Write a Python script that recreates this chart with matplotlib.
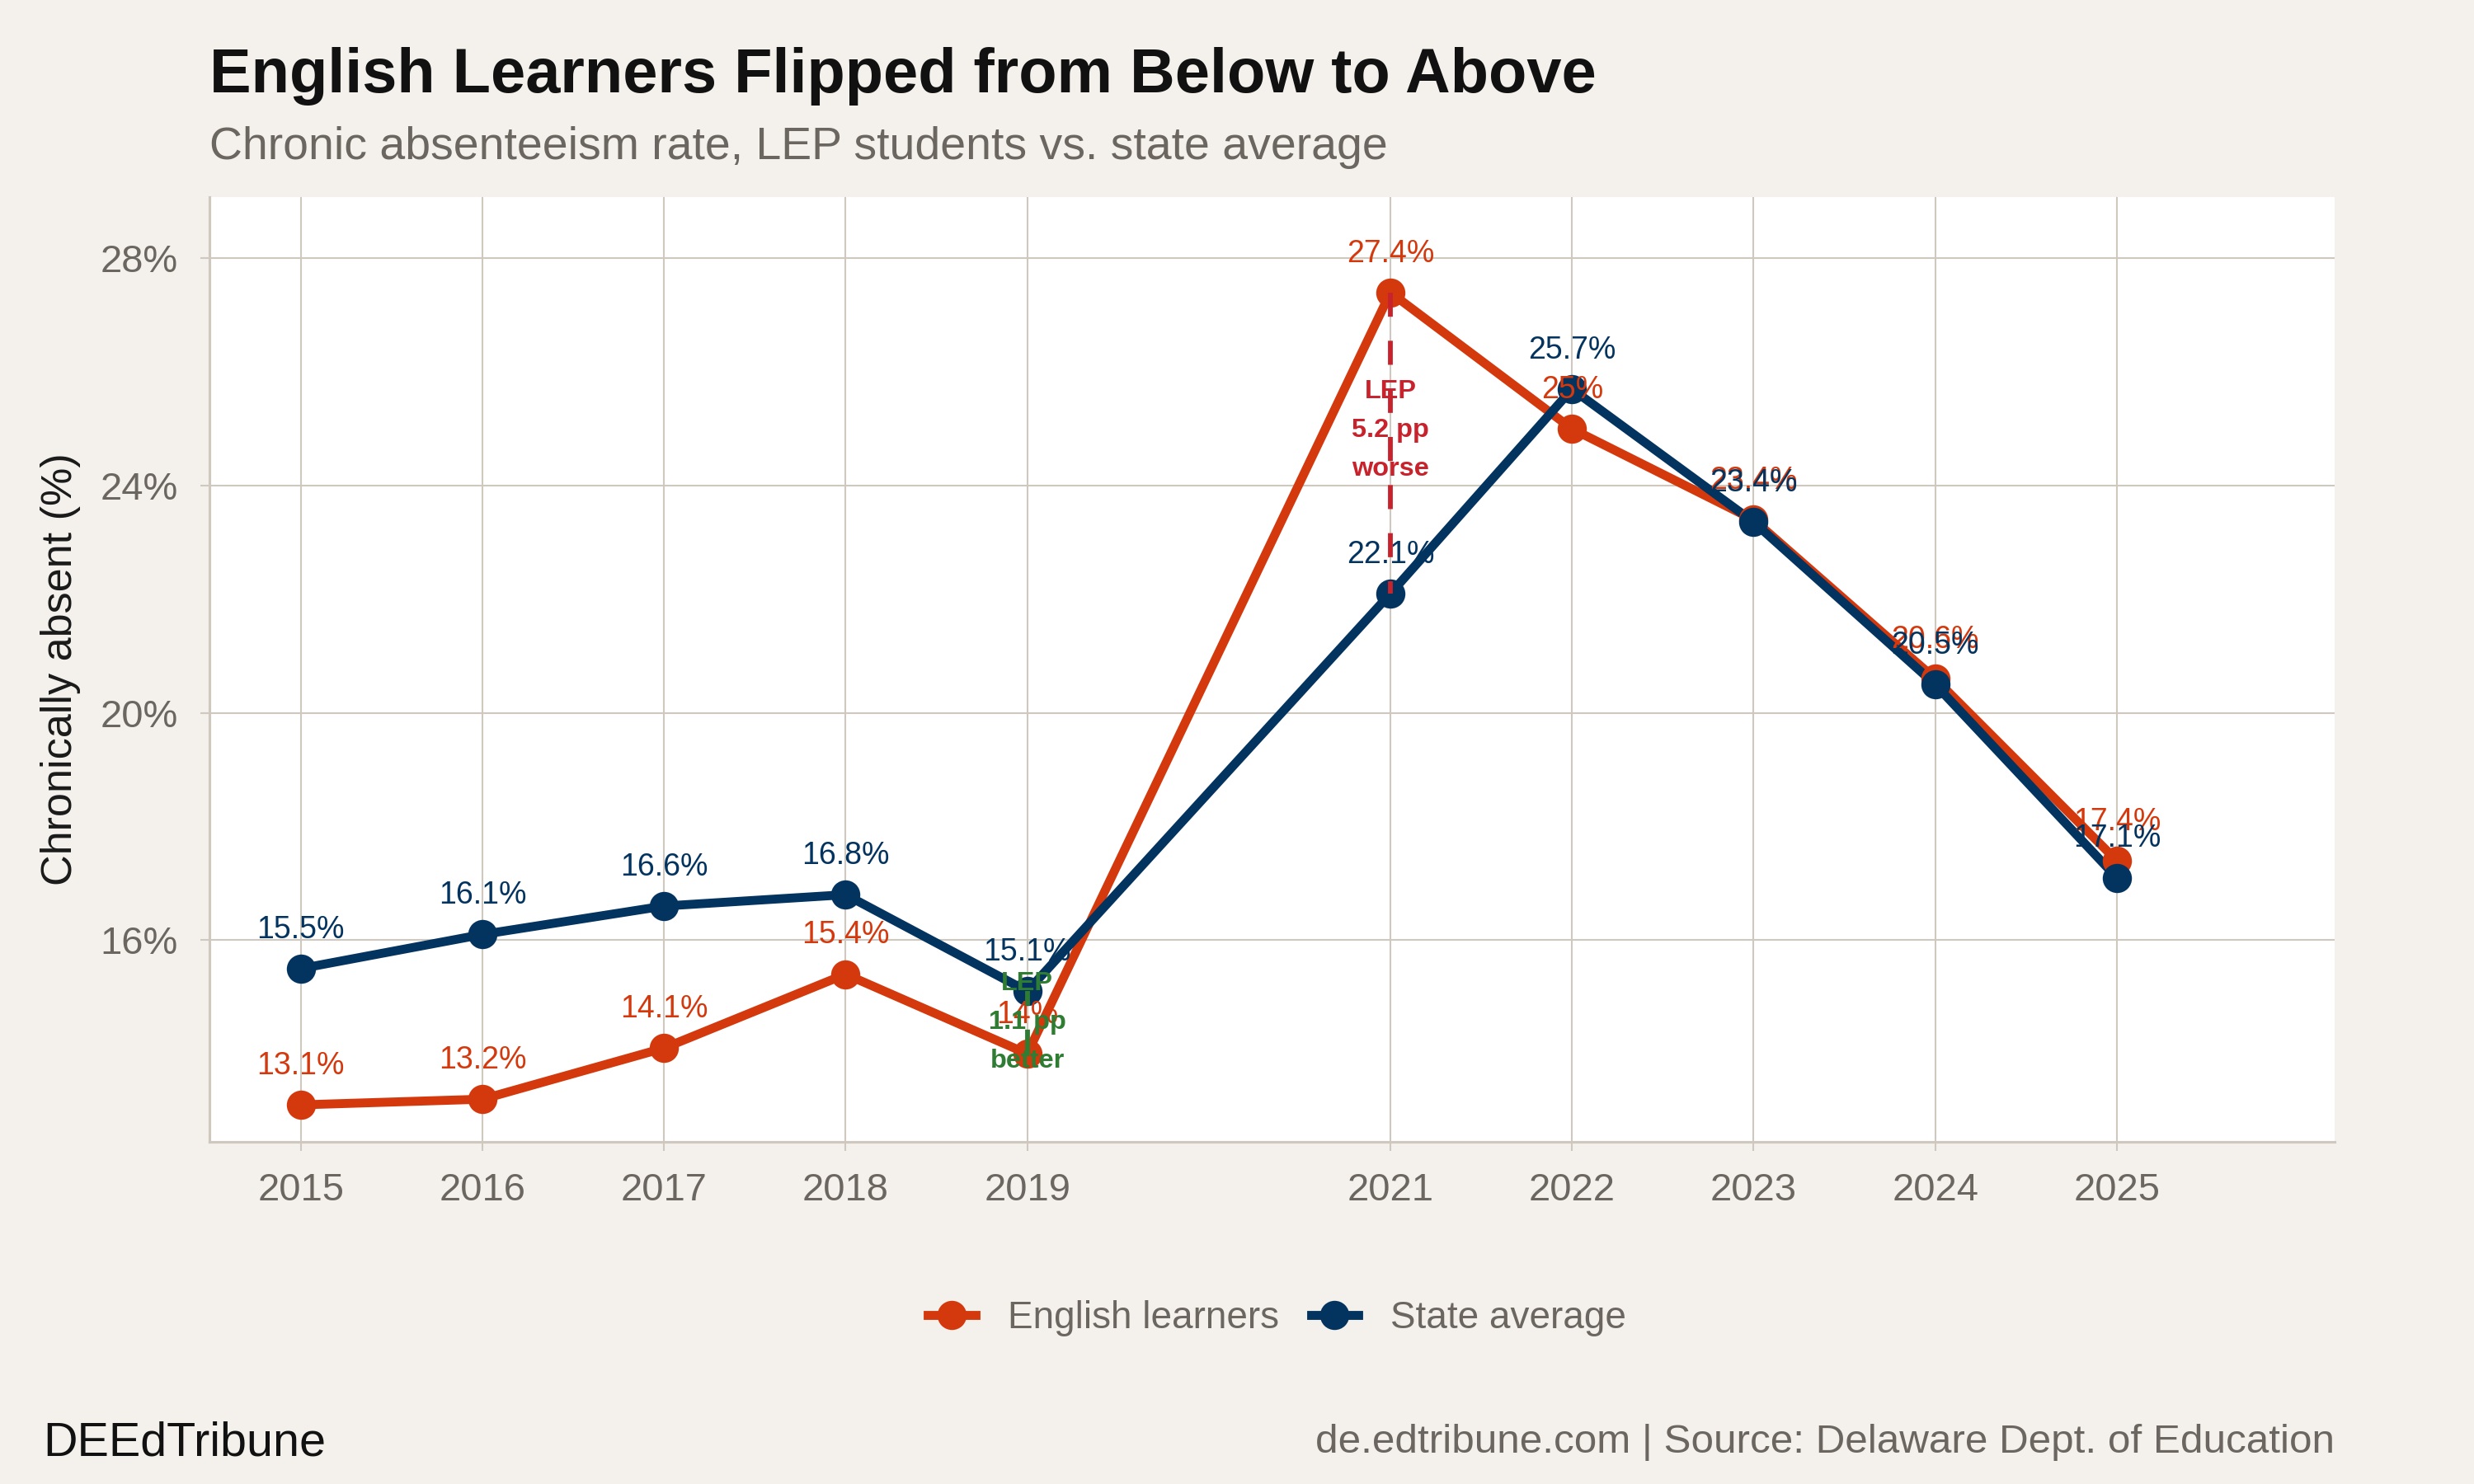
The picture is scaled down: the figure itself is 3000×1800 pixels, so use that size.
import matplotlib
matplotlib.use("Agg")
import matplotlib.pyplot as plt
from matplotlib.lines import Line2D

# ---- data ----
years = [2015, 2016, 2017, 2018, 2019, 2021, 2022, 2023, 2024, 2025]
english_learners = [13.1, 13.2, 14.1, 15.4, 14.0, 27.4, 25.0, 23.4, 20.6, 17.4]
state_average = [15.5, 16.1, 16.6, 16.8, 15.1, 22.1, 25.7, 23.36, 20.5, 17.1]
y_ticks = [16, 20, 24, 28]
series_names = ["English learners", "State average"]
gap_years = [2019, 2021]
gap_texts = ["LEP\n1.1 pp\nbetter", "LEP\n5.2 pp\nworse"]

title = "English Learners Flipped from Below to Above"
subtitle = "Chronic absenteeism rate, LEP students vs. state average"
y_label = "Chronically absent (%)"
caption_left = "DEEdTribune"
caption_right = "de.edtribune.com | Source: Delaware Dept. of Education"

# ---- style ----
BG = "#F4F1EC"
GRID = "#CFC8BF"
GRAY_TXT = "#6B6660"
EL_COL = "#D4380D"
ST_COL = "#03335F"
RED = "#C8232C"
GREEN = "#2E7D32"
FONT = ["Liberation Sans", "DejaVu Sans"]
plt.rcParams["font.family"] = FONT
gap_text_offsets = [0, 3.6]  # points, vertical nudge of annotation text

fig = plt.figure(figsize=(10, 6), dpi=300, facecolor=BG)
ax = fig.add_axes([0.0847, 0.2306, 0.9437 - 0.0847, 0.8672 - 0.2306])
ax.set_facecolor("white")

ax.set_xlim(2014.497, 2026.2)
ax.set_ylim(12.45, 29.08)

ax.set_xticks(years)
ax.set_xticklabels([str(y) for y in years])
ax.set_yticks(y_ticks)
ax.set_yticklabels([f"{t}%" for t in y_ticks])
ax.grid(True, color=GRID, linewidth=0.5, zorder=0)
ax.set_axisbelow(True)
for s in ["top", "right"]:
    ax.spines[s].set_visible(False)
for s in ["left", "bottom"]:
    ax.spines[s].set_color(GRID)
    ax.spines[s].set_linewidth(0.75)
ax.tick_params(axis="both", colors=GRID, length=2.75, width=0.5,
               labelcolor=GRAY_TXT, labelsize=11.3)
ax.tick_params(axis="x", pad=6.2)
ax.tick_params(axis="y", pad=6.5)
ax.set_ylabel(y_label, fontsize=12.5, color="#1A1A1A", labelpad=5.6)

series = [(english_learners, EL_COL), (state_average, ST_COL)]
handles = []
for (vals, col), name in zip(series, series_names):
    ax.plot(years, vals, color=col, linewidth=2.6, solid_capstyle="butt", zorder=3)
    ax.plot(years, vals, linestyle="none", marker="o", markersize=8.5,
            color=col, markeredgewidth=0, zorder=4)
    handles.append(Line2D([0], [0], color=col, linewidth=2.6, marker="o",
                          markersize=8.5, markeredgewidth=0, label=name))

for (vals, col) in series:
    for x, v in zip(years, vals):
        ax.annotate(f"{round(v, 1):g}%", (x, v), xytext=(0, 7),
                    textcoords="offset points", ha="center", va="bottom",
                    fontsize=9, color=col, zorder=5)

# gap annotations
for gy, txt, off in zip(gap_years, gap_texts, gap_text_offsets):
    i = years.index(gy)
    a, b = english_learners[i], state_average[i]
    col = GREEN if a < b else RED
    ax.annotate(txt, (gy, (a + b) / 2), xytext=(0, off),
                textcoords="offset points", ha="center", va="center",
                fontsize=7.8, fontweight="bold", color=col,
                linespacing=1.74, zorder=6)
    ax.plot([gy, gy], [a, b], color=col, linewidth=1.4, dashes=(5.0, 5.0),
            zorder=7)

# legend
cx = (0.0847 + 0.9437) / 2
leg = fig.legend(handles=handles, loc="center", bbox_to_anchor=(cx + 0.002, 0.1117),
                 ncol=2, frameon=False, fontsize=11, handlelength=1.25,
                 handletextpad=0.85, columnspacing=0.85)
for t in leg.get_texts():
    t.set_color(GRAY_TXT)

# titles & captions
fig.text(0.0847, 1 - 112 / 1800, title, fontsize=18.2, fontweight="bold",
         color="#111111", ha="left", va="baseline")
fig.text(0.0847, 1 - 193 / 1800, subtitle, fontsize=13.3, color=GRAY_TXT,
         ha="left", va="baseline")
fig.text(52 / 3000, 1 - 1766 / 1800, caption_left, fontsize=13.8,
         color="#111111", ha="left", va="baseline")
fig.text(0.9437, 1 - 1762 / 1800, caption_right, fontsize=11.85,
         color=GRAY_TXT, ha="right", va="baseline")

fig.savefig("out.png", dpi=300, facecolor=BG)
